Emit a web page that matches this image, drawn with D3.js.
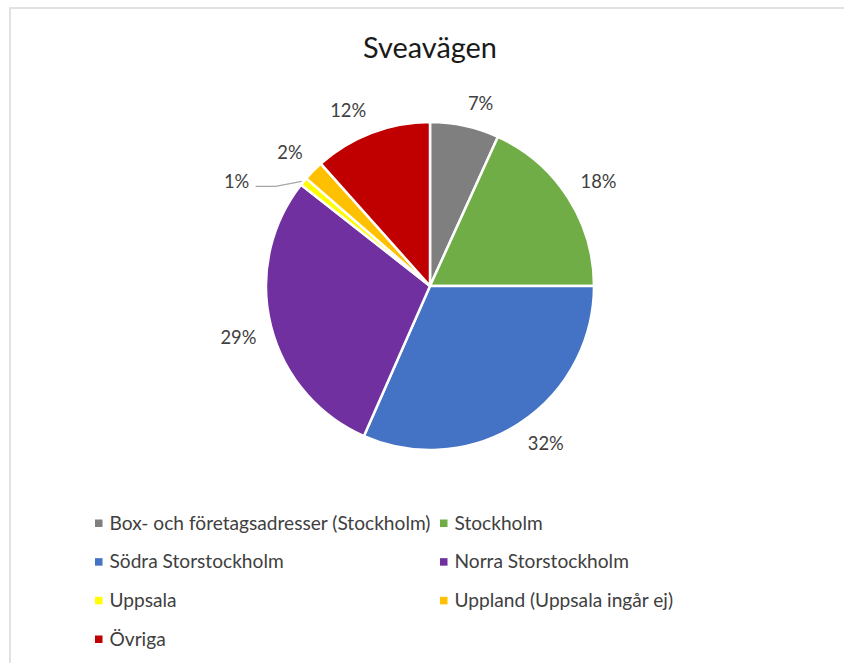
<!DOCTYPE html>
<html>
<head>
<meta charset="utf-8">
<script src="https://cdn.jsdelivr.net/npm/d3@7"></script>
<style>
  html, body { margin: 0; padding: 0; background: #fff; }
  svg { display: block; }
</style>
</head>
<body>
<svg id="chart" width="844" height="663"></svg>
<script>
// ---- data ----
const title = "Sveavägen";
const categories = [
  "Box- och företagsadresser (Stockholm)",
  "Stockholm",
  "Södra Storstockholm",
  "Norra Storstockholm",
  "Uppsala",
  "Uppland (Uppsala ingår ej)",
  "Övriga"
];
const values = [6.8, 18.2, 31.6, 29.0, 0.8, 2.0, 11.6];
const colors = ["#7f7f7f", "#70ad47", "#4472c4", "#7030a0", "#ffff00", "#ffc000", "#c00000"];

// ---- layout ----
const W = 844, H = 663;
const cx = 430, cy = 286, R = 164;
const FONT = "Lato, 'Open Sans', sans-serif";

const svg = d3.select("#chart");

// helper: font size that makes a text reach a target width
function fitSize(text, targetWidth, base) {
  const t = svg.append("text").attr("font-family", FONT).attr("font-size", base).text(text);
  const w = t.node().getComputedTextLength();
  t.remove();
  return base * targetWidth / w;
}
const titleSize = fitSize(title, 134, 30);
const legendSize = fitSize(categories[0], 321, 20);
const labelSize = fitSize("32%", 36, 20);

// chart frame (light border, as in the source picture)
svg.append("rect")
  .attr("x", 10).attr("y", 8)
  .attr("width", W + 20).attr("height", H + 20)
  .attr("fill", "none").attr("stroke", "#d9d9d9").attr("stroke-width", 1.5);

// title
svg.append("text")
  .attr("x", cx).attr("y", 48)
  .attr("text-anchor", "middle").attr("dy", "0.35em")
  .attr("font-family", FONT).attr("font-size", titleSize)
  .attr("fill", "#1a1a1a")
  .text(title);

// pie
const data = categories.map((c, i) => ({ name: c, value: values[i], color: colors[i] }));
const total = d3.sum(values);
const pie = d3.pie().sort(null).value(d => d.value).startAngle(0).endAngle(2 * Math.PI);
const arcs = pie(data);
const arc = d3.arc().innerRadius(0).outerRadius(R);

const g = svg.append("g").attr("transform", `translate(${cx},${cy})`);
g.selectAll("path.slice")
  .data(arcs)
  .join("path")
  .attr("class", "slice")
  .attr("d", arc)
  .attr("fill", d => d.data.color)
  .attr("stroke", "#fff")
  .attr("stroke-width", 2.5)
  .attr("stroke-linejoin", "round");

// data labels (outside end: the label box corner sits on the mid-angle ray)
const fmt = v => Math.round(v / total * 100) + "%";
const anchorR = R + 15;
const halfH = 8;
arcs.forEach((d, i) => {
  const mid = (d.startAngle + d.endAngle) / 2;
  const s = Math.sin(mid), c = Math.cos(mid);
  const share = d.data.value / total;
  const t = g.append("text")
    .attr("text-anchor", "middle").attr("dy", "0.35em")
    .attr("font-family", FONT).attr("font-size", labelSize)
    .attr("fill", "#404040")
    .text(fmt(d.data.value));
  const halfW = t.node().getComputedTextLength() / 2;
  let x, y;
  if (share < 0.015) {
    // tiny slice: label moved out with a leader line (as Excel does)
    const ex = s * R, ey = -c * R;
    x = ex - 67; y = ey;
    g.append("path")
      .attr("d", d3.line()([[ex - 2, ey], [ex - 28, ey + 5], [ex - 48, ey + 5]]))
      .attr("fill", "none").attr("stroke", "#a6a6a6").attr("stroke-width", 1.3);
  } else {
    x = s * anchorR + Math.sign(s) * halfW;
    y = -c * anchorR - Math.sign(c) * halfH;
  }
  t.attr("x", x).attr("y", y);
});

// legend (two columns)
const colX = [95, 440];
const rowY = d3.scaleLinear().domain([0, 3]).range([523, 639]);
const leg = svg.append("g");
data.forEach((d, i) => {
  const col = i % 2, row = Math.floor(i / 2);
  const x = colX[col], y = rowY(row);
  leg.append("rect")
    .attr("x", x).attr("y", y - 3.5)
    .attr("width", 7.5).attr("height", 7.5)
    .attr("fill", d.color);
  leg.append("text")
    .attr("x", x + 14.5).attr("y", y)
    .attr("dy", "0.35em")
    .attr("font-family", FONT).attr("font-size", legendSize)
    .attr("fill", "#404040")
    .text(d.name);
});
</script>
</body>
</html>
